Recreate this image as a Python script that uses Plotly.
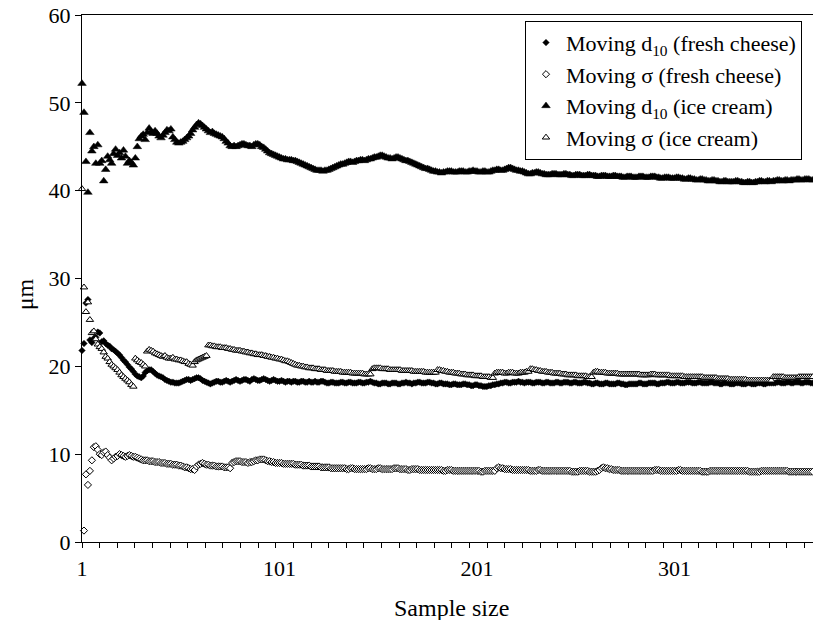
import plotly.graph_objects as go

# ---------------- data ----------------
fresh_d10 = [
    21.8, 22.6, 27.2, 27.6, 23.0, 22.7, 23.2, 23.3, 23.9, 23.8,
    22.8, 22.9, 22.6, 22.4, 22.3, 22.0, 21.9, 21.7, 21.5, 21.3,
    21.0, 20.7, 20.5, 20.2, 19.9, 19.7, 19.4, 19.1, 18.9, 18.8,
    18.7, 18.9, 19.3, 19.5, 19.6, 19.6, 19.4, 19.2, 19.0, 18.9,
    18.8, 18.7, 18.5, 18.4, 18.3, 18.2, 18.2, 18.1, 18.1, 18.1,
    18.2, 18.3, 18.4, 18.5, 18.5, 18.4, 18.5, 18.6, 18.7, 18.7,
    18.6, 18.4, 18.3, 18.2, 18.1, 18.0, 18.1, 18.2, 18.3, 18.3,
    18.2, 18.2, 18.3, 18.4, 18.3, 18.2, 18.3, 18.4, 18.5, 18.4,
    18.3, 18.4, 18.5, 18.5, 18.4, 18.3, 18.5, 18.6, 18.5, 18.4,
    18.4, 18.5, 18.6, 18.5, 18.4, 18.3, 18.4, 18.5, 18.4, 18.3,
    18.3, 18.4, 18.3, 18.2, 18.3, 18.3, 18.2, 18.3, 18.3, 18.2,
    18.2, 18.3, 18.3, 18.2, 18.2, 18.3, 18.2, 18.2, 18.3, 18.2,
    18.2, 18.3, 18.3, 18.2, 18.1, 18.1, 18.2, 18.2, 18.1, 18.1,
    18.1, 18.2, 18.2, 18.1, 18.1, 18.2, 18.2, 18.1, 18.1, 18.1,
    18.2, 18.2, 18.1, 18.1, 18.2, 18.2, 18.3, 18.2, 18.1, 18.1,
    18.0, 18.0, 18.1, 18.1, 18.1, 18.0, 18.0, 18.1, 18.1, 18.1,
    18.0, 18.0, 18.1, 18.1, 18.2, 18.1, 18.1, 18.0, 18.1, 18.1,
    18.2, 18.2, 18.1, 18.1, 18.1, 18.2, 18.2, 18.1, 18.1, 18.0,
    18.0, 18.1, 18.1, 18.0, 18.0, 18.0, 17.9, 17.9, 18.0, 18.0,
    17.9, 17.9, 17.9, 18.0, 18.0, 17.9, 17.9, 17.8, 17.8, 17.9,
    17.9, 17.8, 17.8, 17.7, 17.7, 17.7, 17.8, 17.8, 17.9, 17.9,
    18.0, 18.0, 18.1, 18.1, 18.2, 18.2, 18.1, 18.1, 18.2, 18.2,
    18.2, 18.3, 18.2, 18.2, 18.1, 18.2, 18.2, 18.2, 18.1, 18.1,
    18.2, 18.2, 18.2, 18.1, 18.1, 18.2, 18.2, 18.1, 18.1, 18.1,
    18.2, 18.2, 18.1, 18.1, 18.2, 18.2, 18.2, 18.1, 18.1, 18.2,
    18.2, 18.1, 18.1, 18.1, 18.2, 18.2, 18.1, 18.1, 18.0, 18.0,
    18.1, 18.1, 18.0, 18.0, 18.0, 18.1, 18.1, 18.0, 18.0, 18.0,
    18.0, 18.1, 18.1, 18.0, 18.0, 17.9, 17.9, 18.0, 18.0, 18.0,
    18.0, 18.0, 18.1, 18.1, 18.0, 18.0, 18.0, 18.1, 18.1, 18.1,
    18.1, 18.0, 18.0, 18.1, 18.1, 18.1, 18.2, 18.2, 18.1, 18.1,
    18.1, 18.2, 18.2, 18.1, 18.1, 18.1, 18.2, 18.2, 18.2, 18.1,
    18.1, 18.1, 18.2, 18.2, 18.1, 18.1, 18.1, 18.1, 18.2, 18.2,
    18.1, 18.1, 18.1, 18.0, 18.0, 18.1, 18.1, 18.1, 18.0, 18.0,
    18.0, 18.1, 18.1, 18.1, 18.0, 18.0, 18.0, 18.1, 18.1, 18.0,
    18.0, 18.0, 18.1, 18.1, 18.1, 18.0, 18.0, 18.1, 18.1, 18.1,
    18.1, 18.1, 18.2, 18.2, 18.1, 18.1, 18.1, 18.2, 18.2, 18.1,
    18.1, 18.2, 18.2, 18.2, 18.1, 18.1, 18.2, 18.2, 18.2, 18.1, 18.1,
]

fresh_sigma = [
    None, 1.3, 7.7, 6.5, 8.1, 9.3, 10.8, 10.9, 10.5, 10.0,
    9.9, 10.2, 10.3, 9.9, 9.6, 9.3, 9.5, 9.7, 9.8, 10.0,
    9.9, 9.8, 9.7, 9.8, 9.9, 9.8, 9.7, 9.7, 9.6, 9.5,
    9.4, 9.3, 9.3, 9.3, 9.2, 9.2, 9.2, 9.1, 9.1, 9.1,
    9.0, 9.0, 9.0, 8.9, 8.9, 8.9, 8.8, 8.8, 8.8, 8.7,
    8.7, 8.6, 8.5, 8.5, 8.4, 8.3, 8.3, 8.2, 8.6, 8.8,
    8.9, 9.0, 8.9, 8.8, 8.8, 8.7, 8.7, 8.7, 8.6, 8.6,
    8.6, 8.6, 8.5, 8.5, 8.5, 8.4, 9.0, 9.1, 9.2, 9.2,
    9.2, 9.1, 9.1, 9.1, 9.0, 9.1, 9.1, 9.2, 9.3, 9.3,
    9.4, 9.4, 9.4, 9.3, 9.2, 9.2, 9.1, 9.1, 9.0, 9.0,
    9.0, 9.0, 8.9, 8.9, 8.9, 8.9, 8.9, 8.9, 8.8, 8.8,
    8.8, 8.8, 8.7, 8.7, 8.7, 8.7, 8.6, 8.6, 8.6, 8.6,
    8.6, 8.5, 8.5, 8.5, 8.5, 8.5, 8.4, 8.4, 8.4, 8.4,
    8.4, 8.4, 8.4, 8.4, 8.3, 8.3, 8.4, 8.4, 8.3, 8.3,
    8.3, 8.3, 8.3, 8.3, 8.3, 8.4, 8.4, 8.3, 8.3, 8.3,
    8.4, 8.4, 8.3, 8.3, 8.3, 8.3, 8.3, 8.3, 8.4, 8.4,
    8.4, 8.3, 8.3, 8.3, 8.3, 8.2, 8.2, 8.3, 8.3, 8.3,
    8.3, 8.2, 8.2, 8.2, 8.2, 8.2, 8.2, 8.2, 8.2, 8.2,
    8.2, 8.2, 8.2, 8.1, 8.1, 8.2, 8.2, 8.2, 8.1, 8.1,
    8.1, 8.1, 8.1, 8.1, 8.1, 8.1, 8.1, 8.1, 8.1, 8.1,
    8.1, 8.1, 8.0, 8.0, 8.1, 8.1, 8.1, 8.1, 8.1, 8.1,
    8.4, 8.5, 8.4, 8.4, 8.3, 8.3, 8.3, 8.3, 8.2, 8.2,
    8.2, 8.2, 8.2, 8.2, 8.2, 8.2, 8.2, 8.1, 8.1, 8.1,
    8.1, 8.2, 8.2, 8.1, 8.1, 8.1, 8.1, 8.1, 8.1, 8.1,
    8.1, 8.1, 8.1, 8.1, 8.1, 8.1, 8.1, 8.1, 8.0, 8.0,
    8.0, 8.0, 8.1, 8.1, 8.1, 8.1, 8.1, 8.0, 8.0, 8.0,
    8.0, 8.1, 8.2, 8.4, 8.5, 8.4, 8.4, 8.3, 8.3, 8.2,
    8.2, 8.2, 8.2, 8.1, 8.1, 8.1, 8.1, 8.1, 8.1, 8.1,
    8.1, 8.1, 8.1, 8.1, 8.1, 8.1, 8.1, 8.1, 8.1, 8.1,
    8.2, 8.2, 8.2, 8.1, 8.1, 8.1, 8.1, 8.1, 8.1, 8.1,
    8.1, 8.1, 8.2, 8.2, 8.1, 8.1, 8.1, 8.1, 8.1, 8.1,
    8.1, 8.1, 8.1, 8.1, 8.0, 8.0, 8.0, 8.0, 8.1, 8.1,
    8.1, 8.1, 8.1, 8.1, 8.1, 8.1, 8.1, 8.1, 8.1, 8.1,
    8.1, 8.1, 8.1, 8.1, 8.1, 8.1, 8.1, 8.1, 8.0, 8.0,
    8.0, 8.0, 8.0, 8.0, 8.1, 8.1, 8.1, 8.1, 8.1, 8.1,
    8.1, 8.1, 8.1, 8.1, 8.1, 8.1, 8.1, 8.1, 8.0, 8.0,
    8.0, 8.0, 8.0, 8.0, 8.0, 8.0, 8.0, 8.0, 8.0, 8.0, 8.0,
]

ice_d10 = [
    52.2, 48.9, 43.3, 39.8, 46.6, 44.5, 45.0, 43.1, 45.2, 43.1,
    43.4, 41.1, 42.4, 43.9, 43.5, 43.1, 44.2, 44.7, 44.0, 44.3,
    43.7, 44.6, 43.9, 43.1, 43.4, 43.2, 42.9, 43.7, 45.0, 45.9,
    46.2, 46.4, 45.8, 46.6, 47.1, 46.7, 46.5, 46.8, 46.5, 46.2,
    46.0, 46.3, 46.6, 46.9, 46.8, 47.0, 46.1, 45.8, 45.5, 45.4,
    45.5, 45.6, 45.8, 46.0, 46.2, 46.5, 46.9, 47.2, 47.5, 47.7,
    47.6, 47.4, 47.2, 47.0, 46.8, 46.6, 46.7, 46.5, 46.4, 46.3,
    46.2, 46.1, 45.9, 45.6, 45.4, 45.1, 45.0, 45.1, 45.0, 45.1,
    45.2, 45.3, 45.3, 45.2, 45.1, 45.1, 45.0, 45.2, 45.3, 45.3,
    45.2, 45.0, 44.9, 44.7, 44.5, 44.3, 44.2, 44.1, 44.0, 43.9,
    43.8, 43.7, 43.6, 43.6, 43.5, 43.5, 43.5, 43.4, 43.4, 43.3,
    43.2, 43.1, 43.0, 42.9, 42.8, 42.7, 42.6, 42.5, 42.4, 42.3,
    42.3, 42.3, 42.2, 42.3, 42.3, 42.4, 42.5, 42.6, 42.7, 42.8,
    42.9, 43.0, 43.0, 43.1, 43.2, 43.3, 43.3, 43.2, 43.3, 43.4,
    43.4, 43.5, 43.5, 43.4, 43.5, 43.6, 43.6, 43.7, 43.8, 43.8,
    43.9, 44.0, 44.0, 43.9, 43.8, 43.7, 43.7, 43.6, 43.7, 43.8,
    43.8, 43.7, 43.6, 43.5, 43.4, 43.4, 43.3, 43.2, 43.1, 43.0,
    42.9, 42.8, 42.7, 42.6, 42.5, 42.5, 42.4, 42.3, 42.2, 42.2,
    42.1, 42.1, 42.0, 42.1, 42.1, 42.2, 42.2, 42.2, 42.1, 42.1,
    42.1, 42.2, 42.2, 42.2, 42.1, 42.1, 42.2, 42.2, 42.3, 42.2,
    42.2, 42.1, 42.1, 42.2, 42.2, 42.1, 42.1, 42.2, 42.3, 42.3,
    42.4, 42.4, 42.3, 42.3, 42.4, 42.5, 42.6, 42.6, 42.5, 42.4,
    42.3, 42.3, 42.2, 42.2, 42.1, 42.0, 41.9, 41.9, 42.0, 42.0,
    42.1, 42.1, 42.0, 41.9, 41.9, 41.8, 41.8, 41.8, 41.9, 41.9,
    41.9, 41.8, 41.8, 41.8, 41.9, 41.9, 41.8, 41.8, 41.7, 41.7,
    41.8, 41.8, 41.8, 41.7, 41.7, 41.7, 41.8, 41.8, 41.7, 41.7,
    41.7, 41.6, 41.6, 41.7, 41.7, 41.7, 41.6, 41.6, 41.6, 41.7,
    41.7, 41.6, 41.6, 41.6, 41.5, 41.5, 41.6, 41.6, 41.6, 41.5,
    41.5, 41.5, 41.6, 41.6, 41.6, 41.5, 41.5, 41.5, 41.6, 41.6,
    41.6, 41.5, 41.5, 41.4, 41.4, 41.5, 41.5, 41.5, 41.4, 41.4,
    41.4, 41.5, 41.5, 41.4, 41.4, 41.3, 41.3, 41.4, 41.4, 41.3,
    41.3, 41.2, 41.2, 41.3, 41.3, 41.2, 41.2, 41.1, 41.1, 41.2,
    41.2, 41.1, 41.1, 41.0, 41.0, 41.1, 41.1, 41.0, 41.0, 41.0,
    41.0, 41.1, 41.1, 41.0, 41.0, 40.9, 40.9, 41.0, 41.0, 40.9,
    40.9, 41.0, 41.0, 41.1, 41.1, 41.0, 41.0, 41.1, 41.1, 41.0,
    41.1, 41.1, 41.2, 41.2, 41.1, 41.1, 41.2, 41.2, 41.1, 41.2,
    41.2, 41.2, 41.3, 41.3, 41.2, 41.2, 41.3, 41.3, 41.3, 41.2, 41.2,
]

ice_sigma = [
    40.2, 29.0, 26.2, 27.3, 25.3, 23.8, 24.0, 23.1, 22.5, 22.2,
    22.0, 21.6, 21.1, 20.9, 20.5, 20.2, 20.0, 19.8, 19.6, 19.3,
    19.0, 18.8, 18.6, 18.4, 18.2, 17.9, 17.7, 20.9, 20.7, 20.5,
    20.4, 20.2, 20.0, 21.7, 21.9, 21.8, 21.7, 21.5, 21.4, 21.3,
    21.2, 21.1, 21.2, 21.0, 20.9, 20.9, 21.0, 20.8, 20.8, 20.7,
    20.7, 20.6, 20.5, 20.5, 20.3, 20.2, 20.1, 20.5, 20.7, 20.8,
    20.9, 21.0, 21.1, 21.2, 22.4, 22.4, 22.3, 22.3, 22.2, 22.2,
    22.2, 22.1, 22.1, 22.1, 22.0, 22.0, 21.9, 21.9, 21.8, 21.8,
    21.8, 21.7, 21.7, 21.6, 21.6, 21.5, 21.5, 21.4, 21.4, 21.3,
    21.3, 21.3, 21.2, 21.2, 21.1, 21.1, 21.0, 21.0, 20.9, 20.9,
    20.8, 20.8, 20.7, 20.6, 20.6, 20.5, 20.4, 20.3, 20.2, 20.1,
    20.1, 20.0, 20.0, 19.9, 19.9, 19.8, 19.8, 19.8, 19.7, 19.7,
    19.7, 19.6, 19.6, 19.6, 19.5, 19.5, 19.5, 19.5, 19.4, 19.4,
    19.4, 19.4, 19.3, 19.3, 19.3, 19.3, 19.3, 19.2, 19.2, 19.2,
    19.2, 19.2, 19.2, 19.1, 19.1, 19.1, 19.1, 19.7, 19.8, 19.8,
    19.8, 19.8, 19.7, 19.7, 19.7, 19.7, 19.6, 19.6, 19.6, 19.6,
    19.6, 19.6, 19.5, 19.5, 19.5, 19.5, 19.5, 19.5, 19.4, 19.4,
    19.4, 19.4, 19.4, 19.4, 19.3, 19.3, 19.3, 19.3, 19.3, 19.3,
    19.6, 19.6, 19.5, 19.5, 19.4, 19.4, 19.3, 19.3, 19.3, 19.2,
    19.2, 19.2, 19.1, 19.1, 19.1, 19.0, 19.0, 19.0, 19.0, 18.9,
    18.9, 18.9, 18.9, 18.8, 18.8, 18.8, 18.8, 18.7, 18.7, 19.2,
    19.3, 19.3, 19.3, 19.3, 19.2, 19.2, 19.3, 19.3, 19.3, 19.2,
    19.2, 19.2, 19.3, 19.3, 19.3, 19.4, 19.4, 19.7, 19.7, 19.6,
    19.6, 19.5, 19.5, 19.4, 19.4, 19.4, 19.3, 19.3, 19.3, 19.2,
    19.2, 19.2, 19.2, 19.1, 19.1, 19.1, 19.0, 19.0, 19.0, 19.0,
    19.0, 18.9, 18.9, 18.9, 18.9, 18.9, 18.8, 18.8, 18.8, 19.3,
    19.4, 19.4, 19.3, 19.3, 19.3, 19.3, 19.2, 19.2, 19.2, 19.2,
    19.2, 19.2, 19.1, 19.1, 19.1, 19.1, 19.1, 19.1, 19.1, 19.1,
    19.1, 19.1, 19.1, 19.0, 19.0, 19.0, 19.0, 19.0, 19.1, 19.1,
    19.1, 19.0, 19.0, 19.0, 19.0, 19.0, 19.0, 19.0, 18.9, 18.9,
    18.9, 18.9, 18.9, 18.9, 18.9, 18.8, 18.8, 18.8, 18.8, 18.8,
    18.8, 18.8, 18.8, 18.8, 18.8, 18.7, 18.7, 18.7, 18.7, 18.7,
    18.7, 18.7, 18.6, 18.6, 18.6, 18.6, 18.6, 18.6, 18.5, 18.5,
    18.5, 18.5, 18.5, 18.5, 18.5, 18.5, 18.5, 18.4, 18.4, 18.4,
    18.4, 18.4, 18.4, 18.4, 18.4, 18.4, 18.4, 18.4, 18.4, 18.4,
    18.8, 18.8, 18.8, 18.8, 18.8, 18.8, 18.7, 18.7, 18.7, 18.7,
    18.7, 18.7, 18.7, 18.8, 18.8, 18.8, 18.8, 18.8, 18.8, 18.8, 18.8,
]

series_names = [
    "Moving d<sub>10</sub> (fresh cheese)",
    "Moving σ (fresh cheese)",
    "Moving d<sub>10</sub> (ice cream)",
    "Moving σ (ice cream)",
]
x_tick_vals = [1, 101, 201, 301]
y_tick_vals = [0, 10, 20, 30, 40, 50, 60]
x_title = "Sample size"
y_title = "μm"

FONT = "Times New Roman"


def xs(values):
    return list(range(1, len(values) + 1))


fig = go.Figure()
fig.add_trace(go.Scatter(
    x=xs(fresh_d10), y=fresh_d10, mode="markers", name=series_names[0],
    cliponaxis=False,
    marker=dict(symbol="diamond", size=5, color="black",
                line=dict(width=0.5, color="black"))))
fig.add_trace(go.Scatter(
    x=xs(fresh_sigma), y=fresh_sigma, mode="markers", name=series_names[1],
    cliponaxis=False,
    marker=dict(symbol="diamond", size=5.5, color="white",
                line=dict(width=1, color="black"))))
fig.add_trace(go.Scatter(
    x=xs(ice_d10), y=ice_d10, mode="markers", name=series_names[2],
    cliponaxis=False,
    marker=dict(symbol="triangle-up", size=7.5, color="black",
                line=dict(width=0.5, color="black"))))
fig.add_trace(go.Scatter(
    x=xs(ice_sigma), y=ice_sigma, mode="markers", name=series_names[3],
    cliponaxis=False,
    marker=dict(symbol="triangle-up", size=6.5, color="white",
                line=dict(width=1, color="black"))))

fig.update_layout(
    width=813, height=620,
    margin=dict(l=82, r=0, t=15, b=78),
    paper_bgcolor="white", plot_bgcolor="white",
    font=dict(family=FONT, size=22, color="black"),
    showlegend=True,
    legend=dict(
        x=0.606, y=0.989, xanchor="left", yanchor="top",
        bgcolor="white", bordercolor="black", borderwidth=1,
        font=dict(family=FONT, size=22, color="black"),
        itemsizing="trace",
    ),
    xaxis=dict(
        range=[1, 371.1], showgrid=False, zeroline=False,
        showline=True, linecolor="black", linewidth=1, mirror=True,
        tickmode="array", tickvals=x_tick_vals,
        ticktext=[str(v) for v in x_tick_vals],
        ticks="", ticklabelstandoff=7,
        tickfont=dict(family=FONT, size=22, color="black"),
        minor=dict(ticks="outside", ticklen=5, tickcolor="black",
                   tickwidth=1, tick0=1, dtick=8.92, showgrid=False),
    ),
    yaxis=dict(
        range=[0, 60], showgrid=False, zeroline=False,
        showline=True, linecolor="black", linewidth=1.3, mirror=False,
        tickmode="array", tickvals=y_tick_vals,
        ticks="outside", ticklen=6, tickcolor="black", tickwidth=1,
        tickfont=dict(family=FONT, size=22, color="black"),
    ),
    annotations=[
        dict(text=x_title, xref="paper", yref="paper", x=0.506, y=-0.125,
             xanchor="center", yanchor="middle", showarrow=False,
             font=dict(family=FONT, size=24, color="black")),
        dict(text=y_title, xref="paper", yref="paper", x=-0.078, y=0.47,
             xanchor="center", yanchor="middle", showarrow=False,
             textangle=-90,
             font=dict(family=FONT, size=24, color="black")),
    ],
)

fig.write_html("out.html")
